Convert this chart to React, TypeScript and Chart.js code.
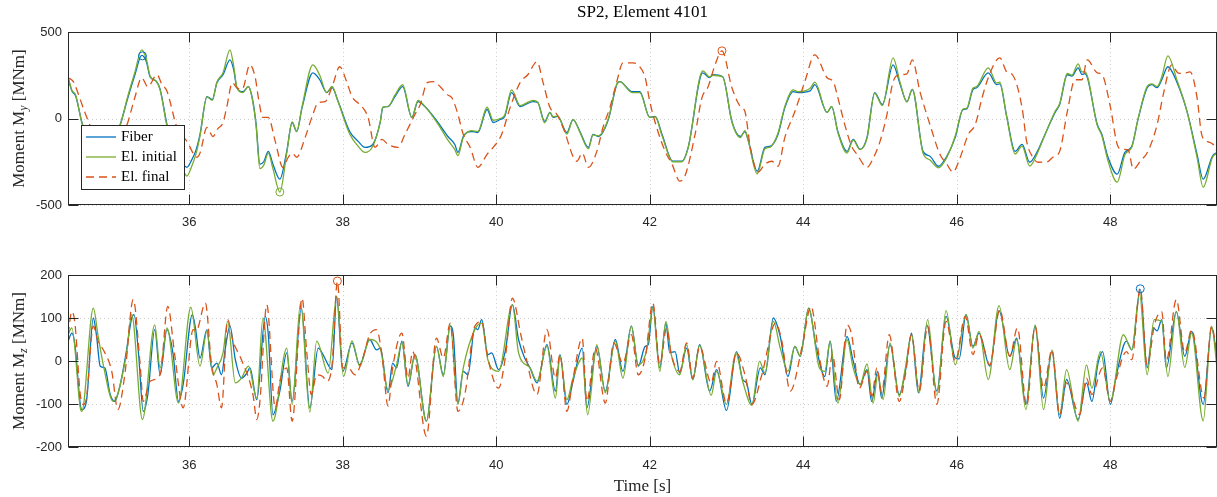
import React, { useEffect, useRef } from 'react';
import { Chart, registerables } from 'chart.js';

Chart.register(...registerables);

// ---------------- data ----------------
const X_MIN = 34.42;
const X_MAX = 49.39;
const xTicks = [36, 38, 40, 42, 44, 46, 48];
const topYTicks = [-500, 0, 500];
const botYTicks = [-200, -100, 0, 100, 200];

const seriesNames = ['Fiber', 'El. initial', 'El. final'];
const seriesColors = ['#0072BD', '#77AC30', '#D95319'];

// Top panel: Moment My
const topTime = [
  34.42, 34.47, 34.52, 34.6, 34.71, 34.84, 34.97, 35.1, 35.2, 35.29,
  35.38, 35.44, 35.49, 35.57, 35.62, 35.71, 35.81, 35.91, 35.97, 36.02,
  36.09, 36.14, 36.23, 36.3, 36.36, 36.44, 36.53, 36.58, 36.62, 36.7,
  36.77, 36.82, 36.87, 36.92, 36.97, 37.03, 37.09, 37.18, 37.27, 37.34,
  37.4, 37.47, 37.61, 37.7, 37.79, 37.86, 37.94, 38.09, 38.2, 38.29,
  38.39, 38.49, 38.52, 38.59, 38.68, 38.78, 38.9, 38.98, 39.07, 39.23,
  39.37, 39.46, 39.5, 39.57, 39.68, 39.76, 39.88, 39.96, 40.05, 40.11,
  40.2, 40.31, 40.48, 40.54, 40.63, 40.7, 40.74, 40.8, 40.92, 41.0,
  41.09, 41.2, 41.26, 41.33, 41.46, 41.57, 41.61, 41.77, 41.87, 42.0,
  42.07, 42.16, 42.3, 42.42, 42.5, 42.69, 42.78, 42.82, 42.95, 43.07,
  43.18, 43.24, 43.28, 43.4, 43.5, 43.57, 43.67, 43.76, 43.87, 43.93,
  44.09, 44.15, 44.31, 44.37, 44.45, 44.57, 44.65, 44.74, 44.83, 44.93,
  45.03, 45.17, 45.26, 45.35, 45.42, 45.56, 45.65, 45.76, 45.87, 45.98,
  46.08, 46.13, 46.21, 46.26, 46.41, 46.52, 46.56, 46.65, 46.76, 46.85,
  46.95, 47.05, 47.12, 47.28, 47.34, 47.44, 47.5, 47.58, 47.63, 47.67,
  47.83, 47.89, 47.97, 48.09, 48.19, 48.28, 48.36, 48.48, 48.54, 48.61,
  48.67, 48.75, 48.87, 49.0, 49.13, 49.21, 49.33, 49.39,
];
const topFiber = [
  236, 160, 130, -20, -150, -230, -170, -35, 120, 250,
  365, 330, 240, 215, 170, -35, -180, -260, -282, -250,
  -180, -92, 127, 109, 207, 253, 339, 280, 178, 155,
  184, 120, -30, -264, -250, -190, -264, -351, -190, -23,
  -75, 63, 264, 224, 150, 178, 98, -75, -132, -167,
  -150, -17, 63, 69, 127, 184, 6, 98, 69, -17,
  -104, -150, -196, -104, -75, -81, 52, -23, -6, 12,
  150, 69, 98, 92, -17, 35, 6, 12, -81, -6,
  -75, -167, -92, -104, -6, 196, 213, 155, 155, 6,
  12, -92, -247, -247, -167, 264, 236, 253, 241, -17,
  -104, -75, -121, -305, -167, -160, -92, 63, 155, 150,
  160, 196, 35, 69, -75, -190, -121, -178, -109, 150,
  81, 310, 200, 98, 167, -190, -218, -276, -218, -109,
  52, 55, 167, 178, 264, 196, 200, 12, -190, -150,
  -253, -190, -121, 35, 81, 253, 245, 293, 255, 259,
  -35, -92, -224, -322, -196, -161, -6, 178, 196, 178,
  224, 299, 207, 40, -207, -351, -218, -196,
];
const topInitial = [
  240, 165, 135, -25, -160, -245, -180, -40, 130, 265,
  397, 345, 245, 215, 165, -45, -200, -290, -333, -290,
  -200, -100, 125, 105, 210, 265, 397, 300, 180, 150,
  185, 115, -40, -290, -270, -200, -290, -425, -200, -20,
  -75, 70, 310, 250, 150, 185, 95, -90, -160, -196,
  -160, -15, 65, 70, 135, 195, 5, 105, 70, -25,
  -125, -180, -215, -110, -70, -75, 65, -10, 0, 20,
  165, 75, 105, 95, -25, 35, 10, 15, -90, -5,
  -80, -175, -95, -100, 0, 200, 213, 150, 150, 5,
  10, -100, -250, -250, -170, 275, 240, 250, 240, -20,
  -110, -70, -125, -320, -175, -165, -85, 70, 165, 155,
  175, 210, 35, 70, -80, -200, -125, -180, -115, 145,
  75, 351, 210, 95, 170, -200, -240, -285, -225, -100,
  55, 60, 175, 185, 293, 205, 210, 10, -205, -160,
  -275, -200, -125, 40, 85, 260, 250, 316, 270, 270,
  -40, -100, -245, -368, -210, -165, -5, 185, 200, 185,
  240, 362, 220, 40, -225, -397, -225, -200,
];
const topFinalTime = [
  34.42, 34.49, 34.58, 34.64, 34.77, 34.94, 35.1, 35.19, 35.29, 35.38,
  35.46, 35.58, 35.64, 35.71, 35.84, 35.97, 36.1, 36.14, 36.23, 36.31,
  36.37, 36.44, 36.49, 36.56, 36.62, 36.69, 36.79, 36.86, 36.9, 36.96,
  37.03, 37.12, 37.22, 37.29, 37.34, 37.4, 37.51, 37.61, 37.68, 37.77,
  37.87, 37.96, 38.05, 38.12, 38.25, 38.33, 38.42, 38.51, 38.59, 38.72,
  38.81, 38.94, 39.01, 39.1, 39.18, 39.27, 39.36, 39.42, 39.49, 39.57,
  39.66, 39.76, 39.88, 39.96, 40.07, 40.18, 40.31, 40.41, 40.53, 40.61,
  40.7, 40.79, 40.87, 41.05, 41.12, 41.2, 41.31, 41.39, 41.48, 41.57,
  41.65, 41.78, 41.87, 41.94, 42.0, 42.09, 42.2, 42.29, 42.39, 42.46,
  42.59, 42.68, 42.76, 42.85, 42.94, 43.07, 43.18, 43.24, 43.31, 43.41,
  43.5, 43.59, 43.67, 43.76, 43.89, 44.02, 44.15, 44.31, 44.39, 44.45,
  44.54, 44.63, 44.7, 44.83, 44.91, 45.0, 45.09, 45.17, 45.26, 45.35,
  45.42, 45.52, 45.65, 45.78, 45.87, 45.95, 46.04, 46.15, 46.24, 46.33,
  46.41, 46.56, 46.65, 46.73, 46.85, 46.91, 46.99, 47.06, 47.18, 47.25,
  47.34, 47.44, 47.54, 47.63, 47.7, 47.83, 47.89, 48.0, 48.09, 48.15,
  48.23, 48.3, 48.39, 48.49, 48.61, 48.69, 48.8, 48.88, 48.95, 49.04,
  49.13, 49.19, 49.26, 49.34, 49.39,
];
const topFinal = [
  236, 213, 109, 35, -100, -180, -120, -35, 120, 236,
  184, 253, 200, 157, -52, -132, -224, -200, -52, -104,
  -60, -23, 69, 207, 178, 170, 310, 236, 121, 6,
  6, -132, -282, -224, -200, -224, -109, 23, 92, 98,
  196, 299, 213, 127, 69, 6, -167, -121, -150, -167,
  -92, 23, 81, 207, 213, 184, 138, 121, 40, -92,
  -167, -282, -207, -167, -92, 63, 207, 253, 328, 207,
  63, 23, -52, -247, -200, -282, -190, -52, 63, 213,
  322, 322, 299, 236, 98, -52, -190, -264, -362, -330,
  -92, 121, 184, 310, 391, 178, 69, 40, -167, -310,
  -264, -247, -276, -109, 40, 213, 368, 236, 213, 121,
  -35, -161, -207, -282, -230, -132, 23, 213, 253, 258,
  339, 155, -35, -207, -264, -310, -230, -92, -35, 121,
  236, 351, 270, 250, 63, -132, -224, -253, -250, -224,
  -190, 40, 224, 224, 339, 264, 255, 69, -150, -178,
  -180, -293, -247, -190, -35, 138, 310, 264, 260, 270,
  121, -92, -132, -150, -190,
];
const topMarkTime = [35.39, 37.18, 42.94];
const topMarkValue = [362, -425, 391];
const topMarkSeries = [0, 1, 2];

// Bottom panel: Moment Mz
const botFiberTime = [
  34.42, 34.47, 34.51, 34.58, 34.6, 34.66, 34.75, 34.79, 34.84, 34.9,
  34.97, 35.03, 35.1, 35.18, 35.25, 35.28, 35.34, 35.4, 35.46, 35.55,
  35.62, 35.71, 35.79, 35.86, 35.92, 36.04, 36.08, 36.14, 36.23, 36.29,
  36.36, 36.42, 36.47, 36.53, 36.6, 36.68, 36.75, 36.79, 36.88, 36.99,
  37.03, 37.09, 37.18, 37.27, 37.34, 37.46, 37.57, 37.68, 37.73, 37.81,
  37.86, 37.92, 38.0, 38.12, 38.22, 38.35, 38.44, 38.49, 38.59, 38.65,
  38.7, 38.77, 38.85, 38.94, 39.09, 39.22, 39.31, 39.4, 39.44, 39.5,
  39.57, 39.63, 39.72, 39.76, 39.81, 39.89, 39.94, 40.03, 40.12, 40.21,
  40.29, 40.37, 40.44, 40.53, 40.66, 40.77, 40.83, 40.92, 41.0, 41.12,
  41.18, 41.31, 41.42, 41.55, 41.65, 41.76, 41.85, 41.94, 41.98, 42.04,
  42.13, 42.21, 42.26, 42.33, 42.39, 42.48, 42.56, 42.65, 42.78, 42.87,
  43.0, 43.13, 43.21, 43.26, 43.33, 43.44, 43.5, 43.61, 43.7, 43.8,
  43.89, 43.96, 44.07, 44.17, 44.28, 44.35, 44.43, 44.57, 44.65, 44.74,
  44.83, 44.89, 44.97, 45.02, 45.13, 45.25, 45.33, 45.41, 45.5, 45.61,
  45.74, 45.86, 45.98, 46.03, 46.12, 46.21, 46.29, 46.43, 46.55, 46.69,
  46.78, 46.9, 47.02, 47.13, 47.24, 47.34, 47.43, 47.58, 47.69, 47.76,
  47.84, 47.9, 48.0, 48.08, 48.21, 48.28, 48.39, 48.48, 48.56, 48.61,
  48.67, 48.73, 48.86, 48.97, 49.06, 49.21, 49.32, 49.39,
];
const botFiber = [
  45, 65, 38, -101, -113, -94, 100, 61, -12, -16,
  -78, -94, -55, 22, 100, 108, 15, -117, -78, 73,
  -32, 73, 15, -94, -55, 108, 77, 7, 73, -16,
  -5, -32, 30, 81, 3, -40, -28, -16, -90, 104,
  61, -125, -70, 19, -94, 123, -109, 30, 19, -9,
  -20, 150, -24, 42, -9, 50, 26, 30, -74, -5,
  -16, 46, -59, 15, -140, 34, -32, 81, 61, -98,
  -24, -32, 77, 73, 96, 15, 19, -20, 26, 131,
  50, 7, -16, -51, 38, -70, 15, -101, -47, 30,
  -109, 34, -70, 50, -24, 81, -12, 34, 38, 127,
  -16, 88, 19, 22, -28, 30, -43, 38, -70, -20,
  -115, 22, -43, -51, -101, -16, -32, 100, 57, -36,
  34, 11, 123, 30, -36, 46, -94, 57, 0, -55,
  -20, -94, -24, -86, 38, -78, -24, 65, -74, 84,
  -70, 104, 7, 5, 108, 34, 65, -12, 117, 11,
  53, -101, 81, -86, 22, -133, -43, -136, -51, -94,
  -5, 22, -101, -32, 46, 26, 166, -16, 77, 70,
  96, -16, 115, 11, 69, -101, 77, 7,
];
const botInitialTime = [
  34.42, 34.47, 34.58, 34.6, 34.75, 34.81, 34.88, 35.01, 35.18, 35.25,
  35.39, 35.55, 35.62, 35.71, 35.86, 36.02, 36.14, 36.23, 36.31, 36.36,
  36.44, 36.5, 36.6, 36.68, 36.77, 36.88, 36.96, 37.09, 37.27, 37.34,
  37.45, 37.57, 37.66, 37.81, 37.92, 38.01, 38.12, 38.22, 38.35, 38.49,
  38.59, 38.7, 38.77, 38.85, 38.94, 39.09, 39.22, 39.31, 39.4, 39.5,
  39.57, 39.72, 39.81, 39.89, 40.03, 40.21, 40.29, 40.44, 40.53, 40.66,
  40.77, 40.83, 40.92, 41.0, 41.12, 41.19, 41.31, 41.42, 41.55, 41.65,
  41.76, 41.85, 41.96, 42.04, 42.13, 42.21, 42.28, 42.39, 42.48, 42.56,
  42.65, 42.8, 42.87, 43.0, 43.12, 43.21, 43.33, 43.43, 43.5, 43.61,
  43.7, 43.8, 43.89, 43.96, 44.07, 44.21, 44.28, 44.35, 44.45, 44.57,
  44.65, 44.74, 44.83, 44.91, 44.97, 45.04, 45.13, 45.25, 45.33, 45.41,
  45.51, 45.62, 45.74, 45.86, 45.98, 46.12, 46.21, 46.29, 46.41, 46.55,
  46.69, 46.78, 46.9, 47.02, 47.13, 47.24, 47.34, 47.43, 47.58, 47.69,
  47.76, 47.87, 48.0, 48.17, 48.28, 48.38, 48.48, 48.57, 48.67, 48.75,
  48.86, 48.97, 49.06, 49.21, 49.32, 49.39,
];
const botInitial = [
  61, 77, -109, -117, 123, 61, -9, -94, 15, 108,
  -136, 84, -16, 77, -98, 125, -12, 69, -32, -16,
  19, 92, -51, -40, -12, -86, 100, -140, 30, -101,
  135, -119, 46, -28, 150, -36, 47, -12, 50, 28,
  -67, -10, 42, -55, 15, -140, 34, -36, 84, -101,
  -16, 73, 88, 3, -24, 131, 19, -16, -47, 34,
  -86, 11, -90, -40, 7, -125, 38, -74, 46, -40,
  81, -9, 26, 123, -24, 92, 15, -32, 38, -43,
  36, -80, -24, -101, 19, -47, -103, -1, -28, 92,
  30, -24, 34, 11, 123, -16, -24, 46, -98, 50,
  -16, -55, -7, -98, -32, -90, 42, -82, -16, 61,
  -74, 96, -80, 117, -9, 108, 30, 69, -43, 129,
  -20, 50, -113, 84, -113, 26, -125, -20, -140, -9,
  -63, 22, -94, 61, 26, 158, -32, 96, 92, -36,
  115, -15, 65, -139, 81, -16,
];
const botFinalTime = [
  34.42, 34.47, 34.51, 34.58, 34.62, 34.66, 34.75, 34.81, 34.88, 34.99,
  35.07, 35.16, 35.27, 35.36, 35.4, 35.49, 35.62, 35.72, 35.81, 35.92,
  36.05, 36.09, 36.21, 36.29, 36.36, 36.42, 36.5, 36.57, 36.68, 36.83,
  36.88, 36.92, 37.01, 37.12, 37.18, 37.27, 37.34, 37.47, 37.53, 37.59,
  37.66, 37.74, 37.79, 37.86, 37.93, 38.0, 38.07, 38.16, 38.25, 38.35,
  38.44, 38.51, 38.59, 38.65, 38.77, 38.85, 38.91, 39.09, 39.22, 39.31,
  39.4, 39.5, 39.59, 39.72, 39.81, 39.89, 40.03, 40.12, 40.21, 40.32,
  40.37, 40.53, 40.66, 40.77, 40.83, 40.92, 41.0, 41.12, 41.18, 41.29,
  41.42, 41.53, 41.65, 41.76, 41.85, 41.94, 42.04, 42.13, 42.22, 42.28,
  42.39, 42.48, 42.56, 42.65, 42.8, 42.87, 43.0, 43.13, 43.24, 43.33,
  43.46, 43.64, 43.72, 43.83, 43.99, 44.1, 44.21, 44.31, 44.38, 44.47,
  44.57, 44.63, 44.73, 44.83, 44.89, 44.96, 45.02, 45.12, 45.25, 45.33,
  45.41, 45.51, 45.62, 45.74, 45.86, 45.98, 46.11, 46.21, 46.29, 46.43,
  46.56, 46.69, 46.79, 46.91, 47.02, 47.13, 47.24, 47.34, 47.43, 47.6,
  47.69, 47.76, 47.9, 48.0, 48.08, 48.21, 48.28, 48.39, 48.48, 48.58,
  48.67, 48.73, 48.86, 48.97, 49.06, 49.22, 49.32, 49.39,
];
const botFinal = [
  61, 115, 88, -78, -101, -86, 81, 46, 26, -24,
  -113, -32, 143, -9, -94, -47, -32, 127, 15, -109,
  73, 70, 135, -9, -55, -109, 96, 46, 3, -78,
  -136, -94, 131, -109, -47, -16, -140, 146, 22, -78,
  -32, -36, -47, -9, 185, -16, -16, -32, 0, 61,
  73, 15, -105, -16, 65, -40, 22, -175, 53, 7,
  88, -117, -78, 81, 92, 7, -63, 11, 146, 61,
  22, -78, 73, -40, 15, -117, -40, 53, -94, 30,
  -98, 42, -5, 61, -32, 7, 135, -9, 77, 15,
  -24, 42, -40, 34, -51, -1, -98, 19, -32, -101,
  -32, 88, 46, -70, 38, 127, 7, -59, 15, -90,
  84, 61, -63, -24, -82, -16, -74, 61, -94, -32,
  61, -70, 81, -101, 92, 0, 104, 15, 61, -9,
  119, 11, 77, -105, 81, -63, 26, -125, -51, -125,
  -40, -78, -16, -94, -40, 22, 3, 170, -9, 88,
  115, 0, 143, 19, 73, -86, 81, 15,
];
const botMarkTime = [37.93, 48.39];
const botMarkValue = [186, 168];
const botMarkSeries = [2, 0];

// ---------------- drawing helpers ----------------
const SERIF = "'Liberation Serif', 'DejaVu Serif', serif";
const SANS = "'Liberation Sans', Arial, sans-serif";
const AXIS_COLOR = '#262626';

const toPoints = (xs: number[], ys: number[]) => xs.map((x, i) => ({ x, y: ys[i] }));

function drawYTitle(ctx: CanvasRenderingContext2D, x: number, cy: number, sub: string) {
  const mainF = `17px ${SERIF}`;
  const subF = `italic 12px ${SERIF}`;
  ctx.save();
  ctx.translate(x, cy);
  ctx.rotate(-Math.PI / 2);
  ctx.font = mainF;
  const w1 = ctx.measureText('Moment M').width;
  const w3 = ctx.measureText(' [MNm]').width;
  ctx.font = subF;
  const w2 = ctx.measureText(sub).width;
  const sx = -(w1 + w2 + w3) / 2;
  ctx.fillStyle = AXIS_COLOR;
  ctx.textBaseline = 'middle';
  ctx.textAlign = 'left';
  ctx.font = mainF;
  ctx.fillText('Moment M', sx, 0);
  ctx.font = subF;
  ctx.fillText(sub, sx + w1, 4);
  ctx.font = mainF;
  ctx.fillText(' [MNm]', sx + w1 + w2, 0);
  ctx.restore();
}

function framePlugin(opts: {
  yTicks: number[];
  sub: string;
  title?: string;
  xTitle?: string;
  xTitleY?: number;
  legend?: boolean;
}) {
  return {
    id: 'frame',
    beforeDatasetsDraw(chart: any) {
      const { ctx, chartArea: a, scales } = chart;
      ctx.save();
      ctx.strokeStyle = '#cfcfcf';
      ctx.lineWidth = 1;
      ctx.setLineDash([1, 3]);
      ctx.beginPath();
      for (const v of xTicks) {
        const p = Math.round(scales.x.getPixelForValue(v)) + 0.5;
        ctx.moveTo(p, a.top);
        ctx.lineTo(p, a.bottom);
      }
      for (const v of opts.yTicks) {
        const p = Math.round(scales.y.getPixelForValue(v)) + 0.5;
        ctx.moveTo(a.left, p);
        ctx.lineTo(a.right, p);
      }
      ctx.stroke();
      ctx.restore();
    },
    afterDatasetsDraw(chart: any) {
      const { ctx, chartArea: a, scales } = chart;
      const L = a.left + 0.5;
      const R = a.right - 0.5;
      const T = a.top + 0.5;
      const B = a.bottom - 0.5;
      ctx.save();
      ctx.setLineDash([]);
      ctx.strokeStyle = AXIS_COLOR;
      ctx.lineWidth = 1;
      ctx.strokeRect(L, T, R - L, B - T);
      const tl = 10;
      ctx.beginPath();
      for (const v of xTicks) {
        const p = Math.round(scales.x.getPixelForValue(v)) + 0.5;
        ctx.moveTo(p, B);
        ctx.lineTo(p, B - tl);
        ctx.moveTo(p, T);
        ctx.lineTo(p, T + tl);
      }
      for (const v of opts.yTicks) {
        const p = Math.round(scales.y.getPixelForValue(v)) + 0.5;
        ctx.moveTo(L, p);
        ctx.lineTo(L + tl, p);
        ctx.moveTo(R, p);
        ctx.lineTo(R - tl, p);
      }
      ctx.stroke();

      drawYTitle(ctx, 20, (a.top + a.bottom) / 2, opts.sub);

      if (opts.title) {
        ctx.font = `17px ${SERIF}`;
        ctx.fillStyle = '#000';
        ctx.textAlign = 'center';
        ctx.textBaseline = 'middle';
        ctx.fillText(opts.title, (a.left + a.right) / 2, 13);
      }
      if (opts.xTitle) {
        ctx.font = `17px ${SERIF}`;
        ctx.fillStyle = AXIS_COLOR;
        ctx.textAlign = 'center';
        ctx.textBaseline = 'middle';
        ctx.fillText(opts.xTitle, (a.left + a.right) / 2, opts.xTitleY || 247);
      }
      if (opts.legend) {
        const bx = 81.5, by = 125.5, bw = 103, bh = 64;
        ctx.fillStyle = '#fff';
        ctx.fillRect(bx, by, bw, bh);
        ctx.strokeStyle = AXIS_COLOR;
        ctx.lineWidth = 1;
        ctx.strokeRect(bx, by, bw, bh);
        const rows = [137, 157, 177];
        seriesNames.forEach((name, i) => {
          ctx.save();
          ctx.strokeStyle = seriesColors[i];
          ctx.lineWidth = 1.3;
          if (i === 2) ctx.setLineDash([8, 5]);
          ctx.beginPath();
          ctx.moveTo(86, rows[i]);
          ctx.lineTo(116, rows[i]);
          ctx.stroke();
          ctx.restore();
          ctx.font = `15px ${SERIF}`;
          ctx.fillStyle = '#000';
          ctx.textAlign = 'left';
          ctx.textBaseline = 'middle';
          ctx.fillText(name, 121, rows[i]);
        });
      }
      ctx.restore();
    },
  };
}

function buildConfig(p: {
  lines: { t: number[]; v: number[] }[];
  markT: number[];
  markV: number[];
  markS: number[];
  yMin: number;
  yMax: number;
  yTicks: number[];
  padTop: number;
  xAxisH: number;
  xTickPad: number;
  plugin: any;
}): any {
  const lineSets = p.lines.map((ln, i) => ({
    label: seriesNames[i],
    data: toPoints(ln.t, ln.v),
    borderColor: seriesColors[i],
    backgroundColor: seriesColors[i],
    borderWidth: 1.3,
    borderDash: i === 2 ? [8, 5] : [],
    pointRadius: 0,
    fill: false,
    tension: 0.4,
    cubicInterpolationMode: 'monotone',
    order: 3 - i,
  }));
  const markSets = p.markT.map((t, k) => ({
    label: 'marker',
    data: [{ x: t, y: p.markV[k] }],
    showLine: false,
    pointRadius: 4,
    pointBorderWidth: 1,
    pointBorderColor: seriesColors[p.markS[k]],
    pointBackgroundColor: 'rgba(0,0,0,0)',
    order: 0,
  }));
  return {
    type: 'line',
    data: { datasets: [...lineSets, ...markSets] },
    options: {
      responsive: false,
      animation: false,
      events: [],
      devicePixelRatio: 1,
      layout: { autoPadding: false, padding: { top: p.padTop, left: 0, right: 0, bottom: 0 } },
      plugins: { legend: { display: false }, tooltip: { enabled: false }, title: { display: false } },
      scales: {
        x: {
          type: 'linear',
          min: X_MIN,
          max: X_MAX,
          afterBuildTicks: (s: any) => {
            s.ticks = xTicks.map((value) => ({ value }));
          },
          afterFit: (s: any) => {
            s.height = p.xAxisH;
            s.paddingLeft = 0;
            s.paddingRight = 0;
          },
          grid: { display: false, drawTicks: false },
          border: { display: false },
          ticks: {
            autoSkip: false,
            maxRotation: 0,
            padding: p.xTickPad,
            color: AXIS_COLOR,
            font: { family: SANS, size: 13 },
            callback: (v: any) => String(v),
          },
        },
        y: {
          type: 'linear',
          min: p.yMin,
          max: p.yMax,
          afterBuildTicks: (s: any) => {
            s.ticks = p.yTicks.map((value) => ({ value }));
          },
          afterFit: (s: any) => {
            s.width = 68;
          },
          grid: { display: false, drawTicks: false },
          border: { display: false },
          ticks: {
            autoSkip: false,
            padding: 6,
            color: AXIS_COLOR,
            font: { family: SANS, size: 13 },
            callback: (v: any) => String(v),
          },
        },
      },
    },
    plugins: [p.plugin],
  };
}

export default function App() {
  const topRef = useRef<HTMLCanvasElement>(null);
  const botRef = useRef<HTMLCanvasElement>(null);

  useEffect(() => {
    const top = new Chart(
      topRef.current as HTMLCanvasElement,
      buildConfig({
        lines: [
          { t: topTime, v: topFiber },
          { t: topTime, v: topInitial },
          { t: topFinalTime, v: topFinal },
        ],
        markT: topMarkTime,
        markV: topMarkValue,
        markS: topMarkSeries,
        yMin: -500,
        yMax: 500,
        yTicks: topYTicks,
        padTop: 32,
        xAxisH: 35,
        xTickPad: 10,
        plugin: framePlugin({ yTicks: topYTicks, sub: 'y', title: 'SP2, Element 4101', legend: true }),
      })
    );
    const bot = new Chart(
      botRef.current as HTMLCanvasElement,
      buildConfig({
        lines: [
          { t: botFiberTime, v: botFiber },
          { t: botInitialTime, v: botInitial },
          { t: botFinalTime, v: botFinal },
        ],
        markT: botMarkTime,
        markV: botMarkValue,
        markS: botMarkSeries,
        yMin: -200,
        yMax: 200,
        yTicks: botYTicks,
        padTop: 35,
        xAxisH: 50,
        xTickPad: 11,
        plugin: framePlugin({ yTicks: botYTicks, sub: 'z', xTitle: 'Time [s]', xTitleY: 247 }),
      })
    );
    return () => {
      top.destroy();
      bot.destroy();
    };
  }, []);

  return (
    <div style={{ position: 'absolute', left: 0, top: 0, width: 1217, height: 497, background: '#fff', overflow: 'hidden' }}>
      <canvas ref={topRef} width={1217} height={240} style={{ position: 'absolute', left: 0, top: 0 }} />
      <canvas ref={botRef} width={1217} height={257} style={{ position: 'absolute', left: 0, top: 240 }} />
    </div>
  );
}
